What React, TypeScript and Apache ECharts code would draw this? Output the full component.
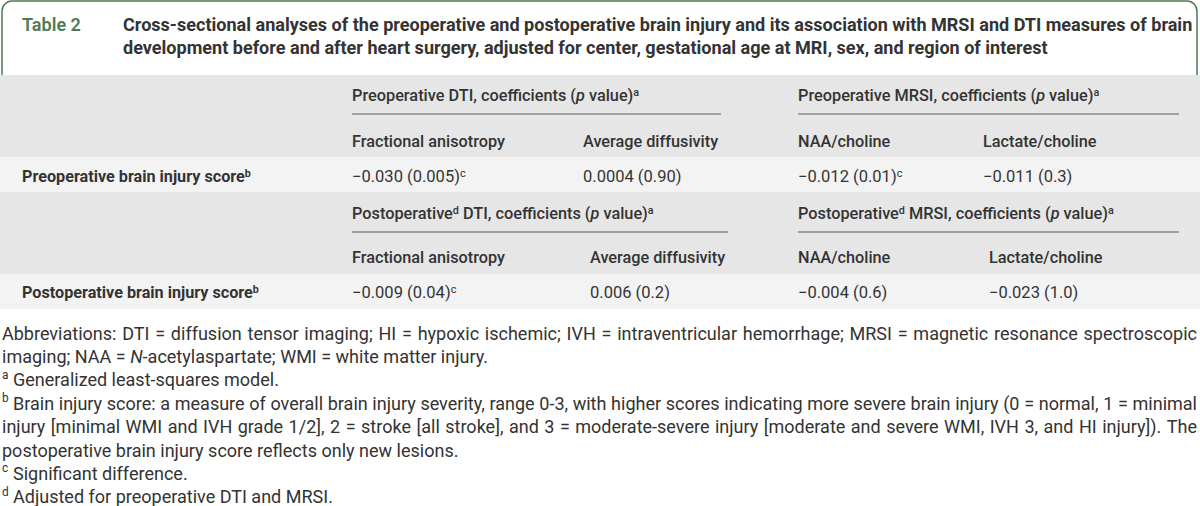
import React, { useEffect, useRef } from 'react';
import * as echarts from 'echarts';

// ---------- data ----------
const tableLabel = 'Table 2';
const titleLines = [
  'Cross-sectional analyses of the preoperative and postoperative brain injury and its association with MRSI and DTI measures of brain',
  'development before and after heart surgery, adjusted for center, gestational age at MRI, sex, and region of interest',
];
const rowLabels = ['Preoperative brain injury score', 'Postoperative brain injury score'];
const rowLabelSup = 'b';
const groupPrefixes = ['Preoperative', 'Postoperative'];
const groupPrefixSup = ['', 'd'];
const groupModalities = ['DTI', 'MRSI'];
const groupSuffix = 'coefficients';
const subHeaders = ['Fractional anisotropy', 'Average diffusivity', 'NAA/choline', 'Lactate/choline'];
const preCoef = ['−0.030', '0.0004', '−0.012', '−0.011'];
const preP = ['0.005', '0.90', '0.01', '0.3'];
const preSig = [true, false, true, false];
const postCoef = ['−0.009', '0.006', '−0.004', '−0.023'];
const postP = ['0.04', '0.2', '0.6', '1.0'];
const postSig = [true, false, false, false];
const sigMark = 'c';

const abbrevLine1 =
  'Abbreviations: DTI = diffusion tensor imaging; HI = hypoxic ischemic; IVH = intraventricular hemorrhage; MRSI = magnetic resonance spectroscopic';
const abbrevLine2a = 'imaging; NAA = ';
const abbrevLine2i = 'N';
const abbrevLine2b = '-acetylaspartate; WMI = white matter injury.';
const noteA = 'Generalized least-squares model.';
const noteB1 =
  'Brain injury score: a measure of overall brain injury severity, range 0-3, with higher scores indicating more severe brain injury (0 = normal, 1 = minimal';
const noteB2 =
  'injury [minimal WMI and IVH grade 1/2], 2 = stroke [all stroke], and 3 = moderate-severe injury [moderate and severe WMI, IVH 3, and HI injury]). The';
const noteB3 = 'postoperative brain injury score reflects only new lesions.';
const noteC = 'Significant difference.';
const noteD = 'Adjusted for preoperative DTI and MRSI.';

const FAM = 'Roboto';
const TXT = '#333333';

export default function App() {
  const ref = useRef<HTMLDivElement>(null);
  useEffect(() => {
    document.body.style.margin = '0';
    const chart = echarts.init(ref.current!, null, { renderer: 'svg' });
    const cv = document.createElement('canvas');
    const ctx = cv.getContext('2d')!;
    const mw = (t: string, weight: number, size: number, style = 'normal') => {
      ctx.font = `${style} ${weight} ${size}px ${FAM}`;
      return ctx.measureText(t).width;
    };
    const fit = (t: string, weight: number, target: number) => (100 * target) / mw(t, weight, 100);

    const els: any[] = [];
    const txt = (text: string, x: number, y: number, o: any = {}) => {
      els.push({
        type: 'text',
        x,
        y,
        style: {
          text,
          fill: o.fill || TXT,
          fontSize: o.size,
          fontWeight: o.weight || 400,
          fontFamily: FAM,
          fontStyle: o.style || 'normal',
          align: 'left',
          verticalAlign: 'middle',
          rich: o.rich,
        },
      });
    };
    const richFor = (size: number, weight: number, fill = TXT) => ({
      n: { fontSize: size, fontWeight: weight, fontFamily: FAM, fill },
      i: { fontSize: size, fontWeight: weight, fontFamily: FAM, fill, fontStyle: 'italic' },
      s: { fontSize: size * 0.66, fontWeight: weight, fontFamily: FAM, fill, verticalAlign: 'top' },
    });

    // sizes fitted to measured widths in the reference
    const titleSize = fit(titleLines[0], 700, 1070);
    const headSize = fit('Preoperative DTI, coefficients (p value)', 500, 282);
    const subSize = fit(subHeaders[0], 500, 153);
    const labelSize = fit(rowLabels[0], 700, 223);
    const valSize = fit('−0.030 (0.005)', 400, 108);
    const noteSize = fit(noteD, 400, 320);

    // title box
    els.push({
      type: 'rect',
      shape: { x: 2, y: 1, width: 1195, height: 100, r: [10, 10, 0, 0] },
      style: { fill: '#ffffff', stroke: '#4e7b53', lineWidth: 1.5 },
    });
    txt(tableLabel, 22, 24, { size: titleSize, weight: 600, fill: '#4e7b53' });
    txt(titleLines[0], 123, 24, { size: titleSize, weight: 700 });
    txt(titleLines[1], 123, 47, { size: titleSize, weight: 700 });

    const sections = [
      { top: 75, headY: 95, lineY: 114, subY: 141, rowTop: 157, rowBot: 192, rowY: 176,
        cols: [352, 583, 798, 983], lines: [[352, 721], [798, 1179]], coef: preCoef, p: preP, sig: preSig },
      { top: 192, headY: 213, lineY: 232, subY: 257, rowTop: 274, rowBot: 309, rowY: 292,
        cols: [352, 590, 798, 989], lines: [[352, 728], [798, 1179]], coef: postCoef, p: postP, sig: postSig },
    ];

    sections.forEach((s, si) => {
      els.push({ type: 'rect', shape: { x: 0, y: s.top, width: 1200, height: s.rowTop - s.top }, style: { fill: '#e6e6e6' } });
      els.push({ type: 'rect', shape: { x: 0, y: s.rowTop, width: 1200, height: s.rowBot - s.rowTop }, style: { fill: '#f3f3f3' } });
      groupModalities.forEach((m, gi) => {
        const sup = groupPrefixSup[si] ? `{s|${groupPrefixSup[si]}}` : '';
        const rt = `{n|${groupPrefixes[si]}}${sup}{n| ${m}, ${groupSuffix} (}{i|p}{n| value)}{s|a}`;
        txt(rt, s.cols[gi * 2], s.headY, { size: headSize, weight: 500, rich: richFor(headSize, 500) });
        els.push({
          type: 'line',
          shape: { x1: s.lines[gi][0], y1: s.lineY, x2: s.lines[gi][1], y2: s.lineY },
          style: { stroke: '#8a8a8a', lineWidth: 1.5 },
        });
      });
      subHeaders.forEach((h, ci) => txt(h, s.cols[ci], s.subY, { size: subSize, weight: 500 }));
      txt(`{n|${rowLabels[si]}}{s|${rowLabelSup}}`, 22, s.rowY, { size: labelSize, weight: 700, rich: richFor(labelSize, 700) });
      s.coef.forEach((c, ci) => {
        const rt = `{n|${c} (${s.p[ci]})}` + (s.sig[ci] ? `{s|${sigMark}}` : '');
        txt(rt, s.cols[ci], s.rowY, { size: valSize, weight: 400, rich: richFor(valSize, 400) });
      });
    });

    // footnotes
    const fy = (k: number) => 333 + k * 23.4;
    const justify = (line: string, x0: number, x1: number, y: number) => {
      const words = line.split(' ');
      const ws = words.map((w) => mw(w, 400, noteSize));
      const total = ws.reduce((a, b) => a + b, 0);
      const gap = (x1 - x0 - total) / (words.length - 1);
      let x = x0;
      words.forEach((w, i) => {
        txt(w, x, y, { size: noteSize });
        x += ws[i] + gap;
      });
    };
    const supNote = (m: string, y: number) => txt(m, 2, y - 5, { size: noteSize * 0.66 });
    const rn = richFor(noteSize, 400);

    justify(abbrevLine1, 2, 1197, fy(0));
    txt(`{n|${abbrevLine2a}}{i|${abbrevLine2i}}{n|${abbrevLine2b}}`, 2, fy(1), { size: noteSize, rich: rn });
    supNote('a', fy(2));
    txt(noteA, 13, fy(2), { size: noteSize });
    supNote('b', fy(3));
    justify(noteB1, 13, 1197, fy(3));
    justify(noteB2, 2, 1197, fy(4));
    txt(noteB3, 2, fy(5), { size: noteSize });
    supNote('c', fy(6));
    txt(noteC, 13, fy(6), { size: noteSize });
    supNote('d', fy(7));
    txt(noteD, 13, fy(7), { size: noteSize });

    chart.setOption({ animation: false, graphic: { elements: els } });
    return () => chart.dispose();
  }, []);
  return <div ref={ref} style={{ width: 1200, height: 506 }} />;
}
